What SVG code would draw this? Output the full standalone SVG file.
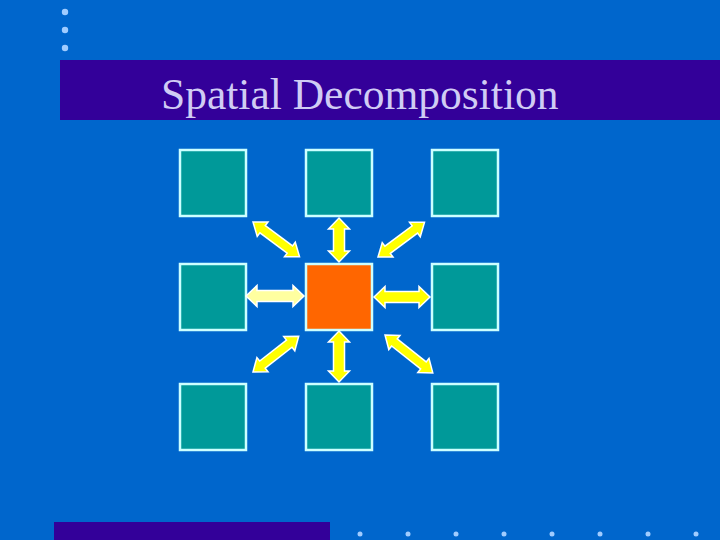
<svg xmlns="http://www.w3.org/2000/svg" width="720" height="540" viewBox="0 0 720 540">
<style>
.node{fill:#009999;stroke:#ccffff;stroke-width:2.5}
.center{fill:#ff6600;stroke:#ccffff;stroke-width:2.5}
.arr{fill:#ffff00;stroke:#ffffff;stroke-width:1.5;stroke-linejoin:miter}
.pale{fill:#ffffa0}
.dot{fill:#a0ccff}
.title{font-family:"Liberation Serif","Times New Roman",serif;font-size:43.5px;fill:#d0ccf4}
</style>
<rect x="0" y="0" width="720" height="540" fill="#0066cc"/>
<circle class="dot" cx="65" cy="12" r="3.2"/>
<circle class="dot" cx="65" cy="30" r="3.2"/>
<circle class="dot" cx="65" cy="48" r="3.2"/>
<rect x="60" y="60" width="660" height="60" fill="#330099"/>
<text class="title" x="161" y="109">Spatial Decomposition</text>
<rect x="54" y="522" width="276" height="18" fill="#330099"/>
<g class="dots">
<circle class="dot" cx="360" cy="534" r="2.5"/>
<circle class="dot" cx="408" cy="534" r="2.5"/>
<circle class="dot" cx="456" cy="534" r="2.5"/>
<circle class="dot" cx="504" cy="534" r="2.5"/>
<circle class="dot" cx="552" cy="534" r="2.5"/>
<circle class="dot" cx="600" cy="534" r="2.5"/>
<circle class="dot" cx="648" cy="534" r="2.5"/>
<circle class="dot" cx="696" cy="534" r="2.5"/>
</g>
<g id="n-tl"><rect class="node" x="180" y="150" width="66" height="66"/></g>
<g id="n-tc"><rect class="node" x="306" y="150" width="66" height="66"/></g>
<g id="n-tr"><rect class="node" x="432" y="150" width="66" height="66"/></g>
<g id="n-ml"><rect class="node" x="180" y="264" width="66" height="66"/></g>
<g id="n-c"><rect class="center" x="306" y="264" width="66" height="66"/></g>
<g id="n-mr"><rect class="node" x="432" y="264" width="66" height="66"/></g>
<g id="n-bl"><rect class="node" x="180" y="384" width="66" height="66"/></g>
<g id="n-bc"><rect class="node" x="306" y="384" width="66" height="66"/></g>
<g id="n-br"><rect class="node" x="432" y="384" width="66" height="66"/></g>
<g id="connectors">
<path class="arr pale" transform="translate(246,296)" d="M0,0 L11,-10.5 L11,-5.5 L47,-5.5 L47,-10.5 L58,0 L47,10.5 L47,5.5 L11,5.5 L11,10.5 Z"/>
<path class="arr" transform="translate(374,297)" d="M0,0 L11,-10.5 L11,-5.5 L45,-5.5 L45,-10.5 L56,0 L45,10.5 L45,5.5 L11,5.5 L11,10.5 Z"/>
<path class="arr" transform="translate(339,218) rotate(90)" d="M0,0 L11,-10.5 L11,-5.5 L33,-5.5 L33,-10.5 L44,0 L33,10.5 L33,5.5 L11,5.5 L11,10.5 Z"/>
<path class="arr" transform="translate(339,331) rotate(90)" d="M0,0 L11,-10.5 L11,-5.5 L40,-5.5 L40,-10.5 L51,0 L40,10.5 L40,5.5 L11,5.5 L11,10.5 Z"/>
<path class="arr" transform="translate(253,222) rotate(36.7)" d="M0,0 L12,-9 L12,-4.5 L46,-4.5 L46,-9 L58,0 L46,9 L46,4.5 L12,4.5 L12,9 Z"/>
<path class="arr" transform="translate(378,257) rotate(-36.7)" d="M0,0 L12,-9 L12,-4.5 L46,-4.5 L46,-9 L58,0 L46,9 L46,4.5 L12,4.5 L12,9 Z"/>
<path class="arr" transform="translate(253,372) rotate(-38)" d="M0,0 L12,-9 L12,-4.5 L46,-4.5 L46,-9 L58,0 L46,9 L46,4.5 L12,4.5 L12,9 Z"/>
<path class="arr" transform="translate(385,335) rotate(38.4)" d="M0,0 L12,-9 L12,-4.5 L49,-4.5 L49,-9 L61,0 L49,9 L49,4.5 L12,4.5 L12,9 Z"/>
</g>
</svg>
